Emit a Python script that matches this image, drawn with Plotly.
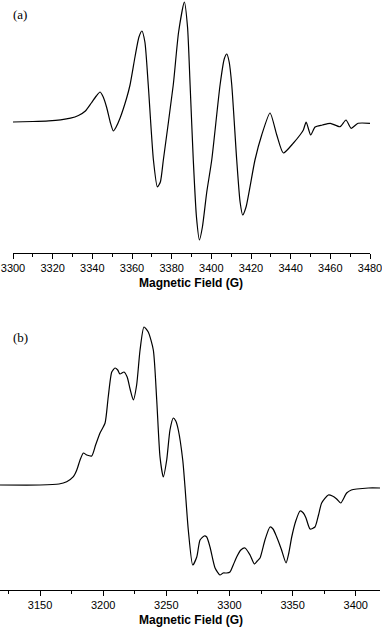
import plotly.graph_objects as go

# ---------------- Panel (a) ----------------
field_a = [3300, 3310, 3318, 3324, 3329, 3333, 3336.5, 3339.5, 3342, 3343.9, 3345.5, 3347.3,
           3349, 3350.6, 3352, 3354, 3357.3, 3359, 3361.5, 3363.5, 3365, 3366.5,
           3368.2, 3370.8, 3372.8, 3374.3, 3375.8, 3380.8, 3383.5, 3386.4, 3388, 3389.3,
           3390.9, 3392.5, 3394, 3395.5, 3397.7, 3400.2, 3404.4, 3406.5, 3407.8, 3409,
           3410.3, 3412.8, 3414.5, 3415.8, 3417.5, 3422, 3425.4, 3429.6, 3433, 3436.3,
           3441.4, 3444.7, 3446.4, 3447.8, 3450.1, 3452.3, 3456, 3460, 3464.9, 3467.9,
           3470.5, 3474, 3480]
signal_a = [0, 0.5, 1.2, 2.2, 3.8, 6.5, 11, 19, 26, 30, 25, 14,
            0, -9, -5, 4, 24, 37, 65, 85, 91, 80,
            37, -38, -65, -60, -38, 37, 90, 120, 95, 37,
            -38, -95, -118, -105, -70, -38, 37, 63, 68, 60,
            37, -38, -80, -93, -85, -38, -13, 9, -13, -31,
            -21, -13, -8, 0, -13, -5, -3, -1.3, -4.7, 2,
            -6.3, -1.3, -1.3]

# ---------------- Panel (b) ----------------
field_b = [3118.3, 3150, 3165, 3171.1, 3176.4, 3179.1, 3181.7, 3184.3, 3187, 3190.9,
           3194, 3197.5, 3201.5, 3204, 3206.8, 3209.4, 3211.5, 3213.3, 3216.5, 3219,
           3221.5, 3223.9, 3226.5, 3229.2, 3232.3, 3235.7, 3239.7, 3242.4, 3245.0, 3247.6,
           3250.3, 3252.9, 3255.5, 3257.5, 3259.5, 3263.0, 3264.8, 3267.4, 3270.9, 3274.1,
           3276.7, 3280, 3282, 3284.6, 3288.6, 3292.5, 3295, 3297.8, 3300.4, 3303,
           3305.7, 3309, 3312.3, 3316.3, 3319.7, 3322, 3324.2, 3328.1, 3332.1, 3334.5,
           3337.4, 3341, 3344.8, 3347, 3349.3, 3352.5, 3355.9, 3358.5, 3360.6, 3363.8,
           3367.7, 3370.5, 3373.0, 3378.3, 3381.5, 3384.9, 3388.1, 3392.8, 3396.5, 3400.8,
           3410, 3419.2]
signal_b = [0, 0, 1, 3.3, 8.3, 15, 25, 32, 30, 29,
            40, 52, 62, 88, 113, 117, 115, 111, 113, 108,
            95, 85, 100, 135, 158, 153, 135, 85, 28, 8,
            25, 55, 67, 64, 55, 25, -2, -45, -80, -72,
            -55, -51, -52, -62, -83, -90, -88, -88, -87, -80,
            -72, -65, -63, -70, -79, -76, -73, -55, -42, -44,
            -52, -64, -78, -68, -52, -36, -26, -28, -33, -44,
            -42, -30, -18, -10, -11, -14, -18, -8, -5, -4,
            -3, -3]

W, H = 382, 635
sans = "Arial, Liberation Sans, sans-serif"
serif = "Times New Roman, Liberation Serif, serif"

fig = go.Figure()
line_style = dict(color="black", width=1.2, shape="spline", smoothing=0.6)
fig.add_trace(go.Scatter(x=field_a, y=signal_a, mode="lines", line=line_style,
                         xaxis="x", yaxis="y", showlegend=False, hoverinfo="skip"))
fig.add_trace(go.Scatter(x=field_b, y=signal_b, mode="lines", line=line_style,
                         xaxis="x2", yaxis="y2", showlegend=False, hoverinfo="skip"))

common_x = dict(showline=True, linecolor="black", linewidth=1, ticks="outside",
                ticklen=5, tickwidth=1, tickcolor="black", showgrid=False,
                zeroline=False, automargin=False, ticklabeloverflow="allow",
                tickfont=dict(family=sans, size=11, color="black"))

fig.update_layout(
    width=W, height=H,
    margin=dict(l=0, r=0, t=0, b=0, autoexpand=False),
    paper_bgcolor="white", plot_bgcolor="white",
    xaxis=dict(domain=[13 / W, 370 / W], range=[3300, 3480], anchor="y",
               tick0=3300, dtick=20,
               minor=dict(ticks="outside", ticklen=3, dtick=10, tickcolor="black"),
               **common_x),
    yaxis=dict(domain=[1 - 253 / H, 1], range=[-131, 122], visible=False,
               automargin=False),
    xaxis2=dict(domain=[0, 380 / W], range=[3118.3, 3419.2], anchor="y2",
                tick0=3150, dtick=50,
                minor=dict(ticks="outside", ticklen=3, dtick=25, tickcolor="black"),
                **common_x),
    yaxis2=dict(domain=[1 - 590 / H, 1 - 315 / H], range=[-105, 170], visible=False,
                automargin=False),
    annotations=[
        dict(text="(a)", x=20 / W, y=1 - 15 / H, xref="paper", yref="paper",
             showarrow=False, xanchor="center", yanchor="middle",
             font=dict(family=serif, size=13, color="black")),
        dict(text="(b)", x=20 / W, y=1 - 337.5 / H, xref="paper", yref="paper",
             showarrow=False, xanchor="center", yanchor="middle",
             font=dict(family=serif, size=13, color="black")),
        dict(text="<b>Magnetic Field (G)</b>", x=191 / W, y=1 - 283 / H,
             xref="paper", yref="paper", showarrow=False,
             xanchor="center", yanchor="middle",
             font=dict(family=sans, size=12, color="black")),
        dict(text="<b>Magnetic Field (G)</b>", x=191 / W, y=1 - 620 / H,
             xref="paper", yref="paper", showarrow=False,
             xanchor="center", yanchor="middle",
             font=dict(family=sans, size=12, color="black")),
    ],
)

fig.write_html("out.html", config={"displayModeBar": False, "staticPlot": True},
               post_script="document.body.style.margin='0';document.body.style.overflow='hidden';")
